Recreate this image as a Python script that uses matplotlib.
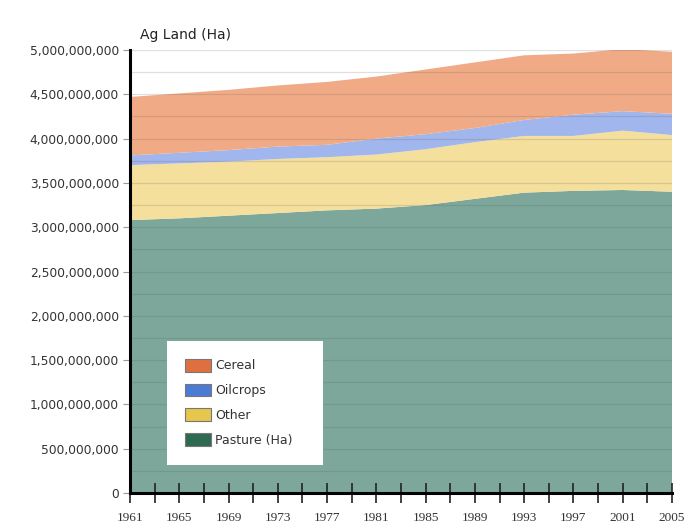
import matplotlib.pyplot as plt
from matplotlib.patches import Patch
import numpy as np

# Data (million hectares)
years = [1961, 1965, 1969, 1973, 1977, 1981, 1985, 1989, 1993, 1997, 2001, 2005]
pasture = [3080, 3100, 3130, 3160, 3190, 3210, 3250, 3320, 3390, 3410, 3420, 3400]
other = [620, 620, 610, 610, 600, 610, 630, 640, 640, 620, 670, 640]
oilcrops = [110, 120, 130, 140, 140, 180, 170, 160, 180, 240, 220, 240]
cereal = [660, 670, 680, 690, 710, 700, 730, 740, 730, 690, 700, 700]

labels = ["Pasture (Ha)", "Other", "Oilcrops", "Cereal"]
fill_colors = ["#7CA79A", "#F5DF9C", "#A1B6EC", "#F1AA86"]
icon_colors = ["#2F6B52", "#E6C64C", "#4C7BD6", "#DE7040"]

fig = plt.figure(figsize=(6.92, 5.31), dpi=100)
ax = fig.add_axes([130 / 692, 38 / 531, 542 / 692, 443 / 531])

stack = [np.array(s) * 1e6 for s in (pasture, other, oilcrops, cereal)]
ax.stackplot(years, *stack, colors=fill_colors, linewidth=0, zorder=1)

ax.set_xlim(1961, 2005)
ax.set_ylim(0, 5e9)

# gridlines drawn over the fills
for v in np.arange(250e6, 5e9 + 1, 250e6):
    ax.axhline(v, color="#555555", alpha=0.18, linewidth=0.9, zorder=2)

ax.set_yticks(np.arange(0, 5e9 + 1, 5e8))
ax.set_yticklabels([f"{int(v):,}" for v in np.arange(0, 5e9 + 1, 5e8)],
                   fontsize=8.8, color="#333333")
ax.tick_params(axis="y", length=5, color="#999999", width=0.8, pad=3)

ax.set_xticks(np.arange(1961, 2006, 2))
ax.set_xticklabels([str(y) if (y - 1961) % 4 == 0 else "" for y in range(1961, 2006, 2)],
                   fontsize=9.5, family="Liberation Serif", color="#333333")
ax.tick_params(axis="x", direction="inout", length=14, width=1.2, color="#222222", pad=7)

for side in ("top", "right"):
    ax.spines[side].set_visible(False)
ax.spines["left"].set_linewidth(2.2)
ax.spines["bottom"].set_linewidth(2.2)
ax.spines["left"].set_zorder(5)
ax.spines["bottom"].set_zorder(5)

fig.text(140 / 692, 1 - 35 / 531, "Ag Land (Ha)", fontsize=10, va="center",
         ha="left", color="#222222")

handles = [Patch(facecolor=icon_colors[i], edgecolor="#777777", linewidth=0.8)
           for i in (3, 2, 1, 0)]
leg = ax.legend(handles, [labels[i] for i in (3, 2, 1, 0)], loc="lower left",
                bbox_to_anchor=(0.068, 0.063, 0.288, 0.278), mode="expand",
                fontsize=9, frameon=True, fancybox=False, framealpha=1,
                edgecolor="white", borderpad=1.45, labelspacing=0.9,
                handlelength=2.1, handleheight=1.2, handletextpad=0.3,
                borderaxespad=0)
leg.get_frame().set_linewidth(0)
for t in leg.get_texts():
    t.set_color("#333333")
leg.set_zorder(6)

fig.savefig("out.png", dpi=100)
